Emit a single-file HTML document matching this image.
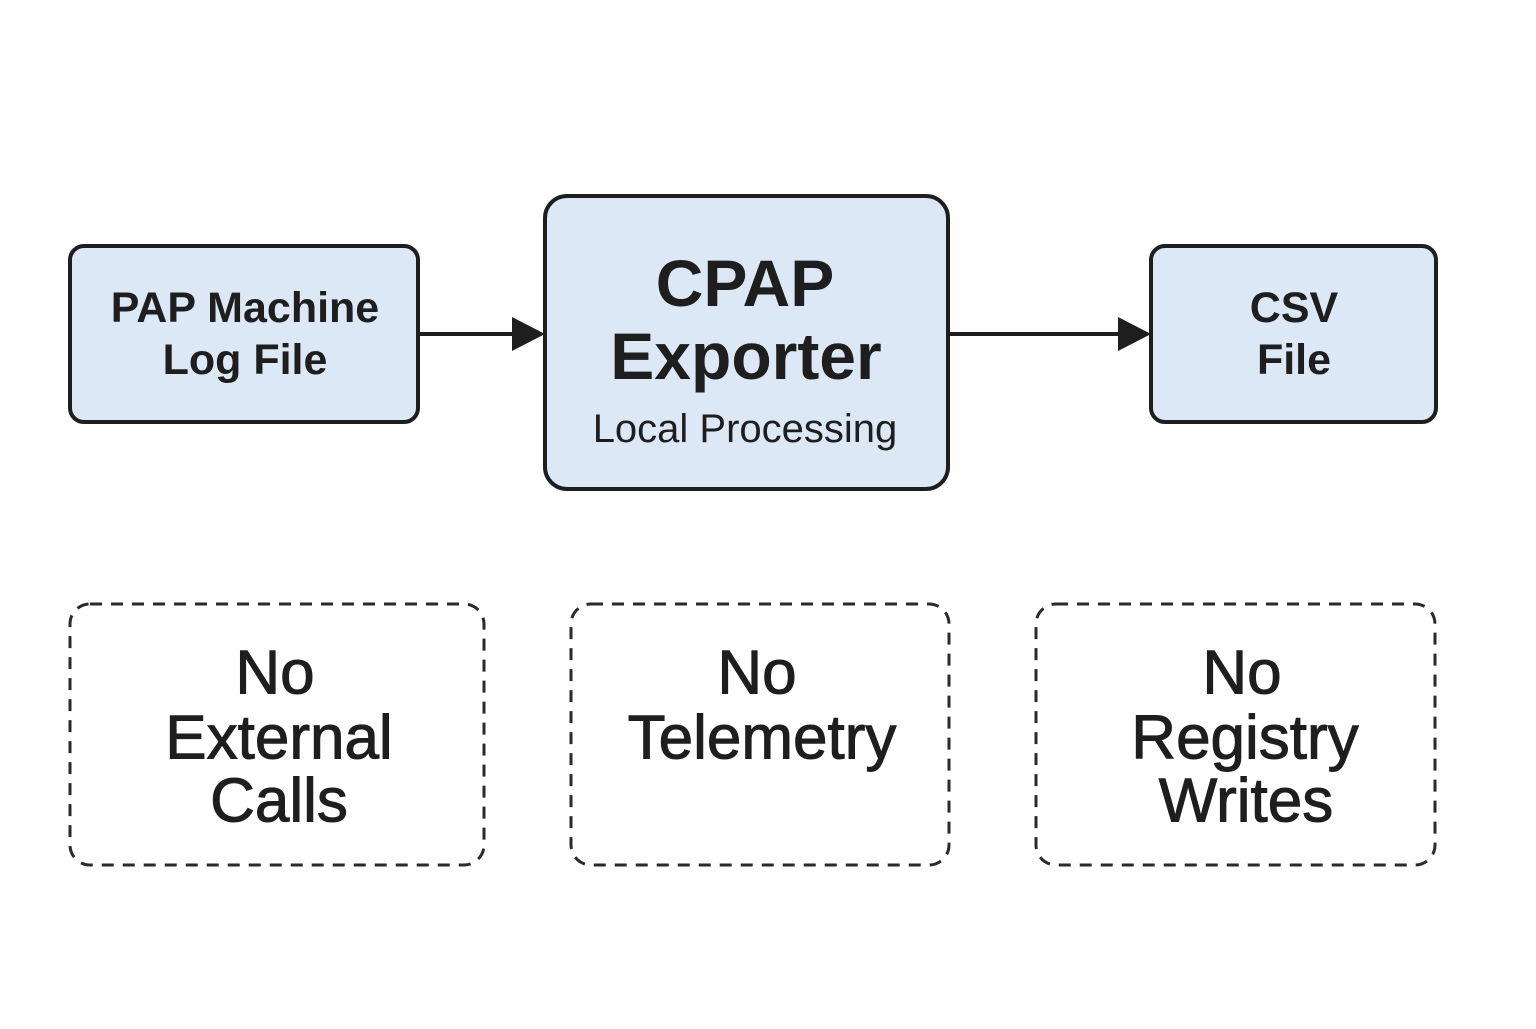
<!DOCTYPE html>
<html><head><meta charset="utf-8"><style>
body{margin:0;background:#fff;}
svg text{font-family:"Liberation Sans","DejaVu Sans",sans-serif;fill:#1e1e1e;text-anchor:middle;dominant-baseline:central;}
</style></head><body>
<svg width="1536" height="1024" viewBox="0 0 1536 1024" xmlns="http://www.w3.org/2000/svg">
<rect width="1536" height="1024" fill="#fff"/>
<g fill="#dce8f6" stroke="#1e1e1e" stroke-width="4">
<rect x="70" y="246" width="348" height="176" rx="14"/>
<rect x="545" y="196" width="403" height="293" rx="22"/>
<rect x="1151" y="246" width="285" height="176" rx="14"/>
</g>
<g stroke="#1e1e1e" stroke-width="4">
<line x1="418" y1="334" x2="515" y2="334"/>
<line x1="948" y1="334" x2="1120" y2="334"/>
</g>
<polygon points="512,317 545,334 512,351" fill="#1e1e1e"/>
<polygon points="1118,317 1151,334 1118,351" fill="#1e1e1e"/>
<g fill="none" stroke="#2a2a2a" stroke-width="3" stroke-dasharray="12,9">
<rect x="70" y="604" width="414" height="261" rx="20"/>
<rect x="571" y="604" width="378" height="261" rx="20"/>
<rect x="1036" y="604" width="399" height="261" rx="20"/>
</g>
<g font-size="43" font-weight="bold">
<text x="245" y="308">PAP Machine</text>
<text x="245" y="360">Log File</text>
<text x="1294" y="308">CSV</text>
<text x="1294" y="360">File</text>
</g>
<g font-size="66" font-weight="bold">
<text x="745" y="283">CPAP</text>
<text x="746" y="356">Exporter</text>
</g>
<text x="745" y="429" font-size="40">Local Processing</text>
<g font-size="62" stroke="#1e1e1e" stroke-width="1">
<text x="275" y="673">No</text>
<text x="279" y="738">External</text>
<text x="279" y="801">Calls</text>
<text x="757" y="673">No</text>
<text x="762" y="738">Telemetry</text>
<text x="1242" y="673">No</text>
<text x="1245" y="738">Registry</text>
<text x="1246" y="801">Writes</text>
</g>
</svg>
</body></html>
